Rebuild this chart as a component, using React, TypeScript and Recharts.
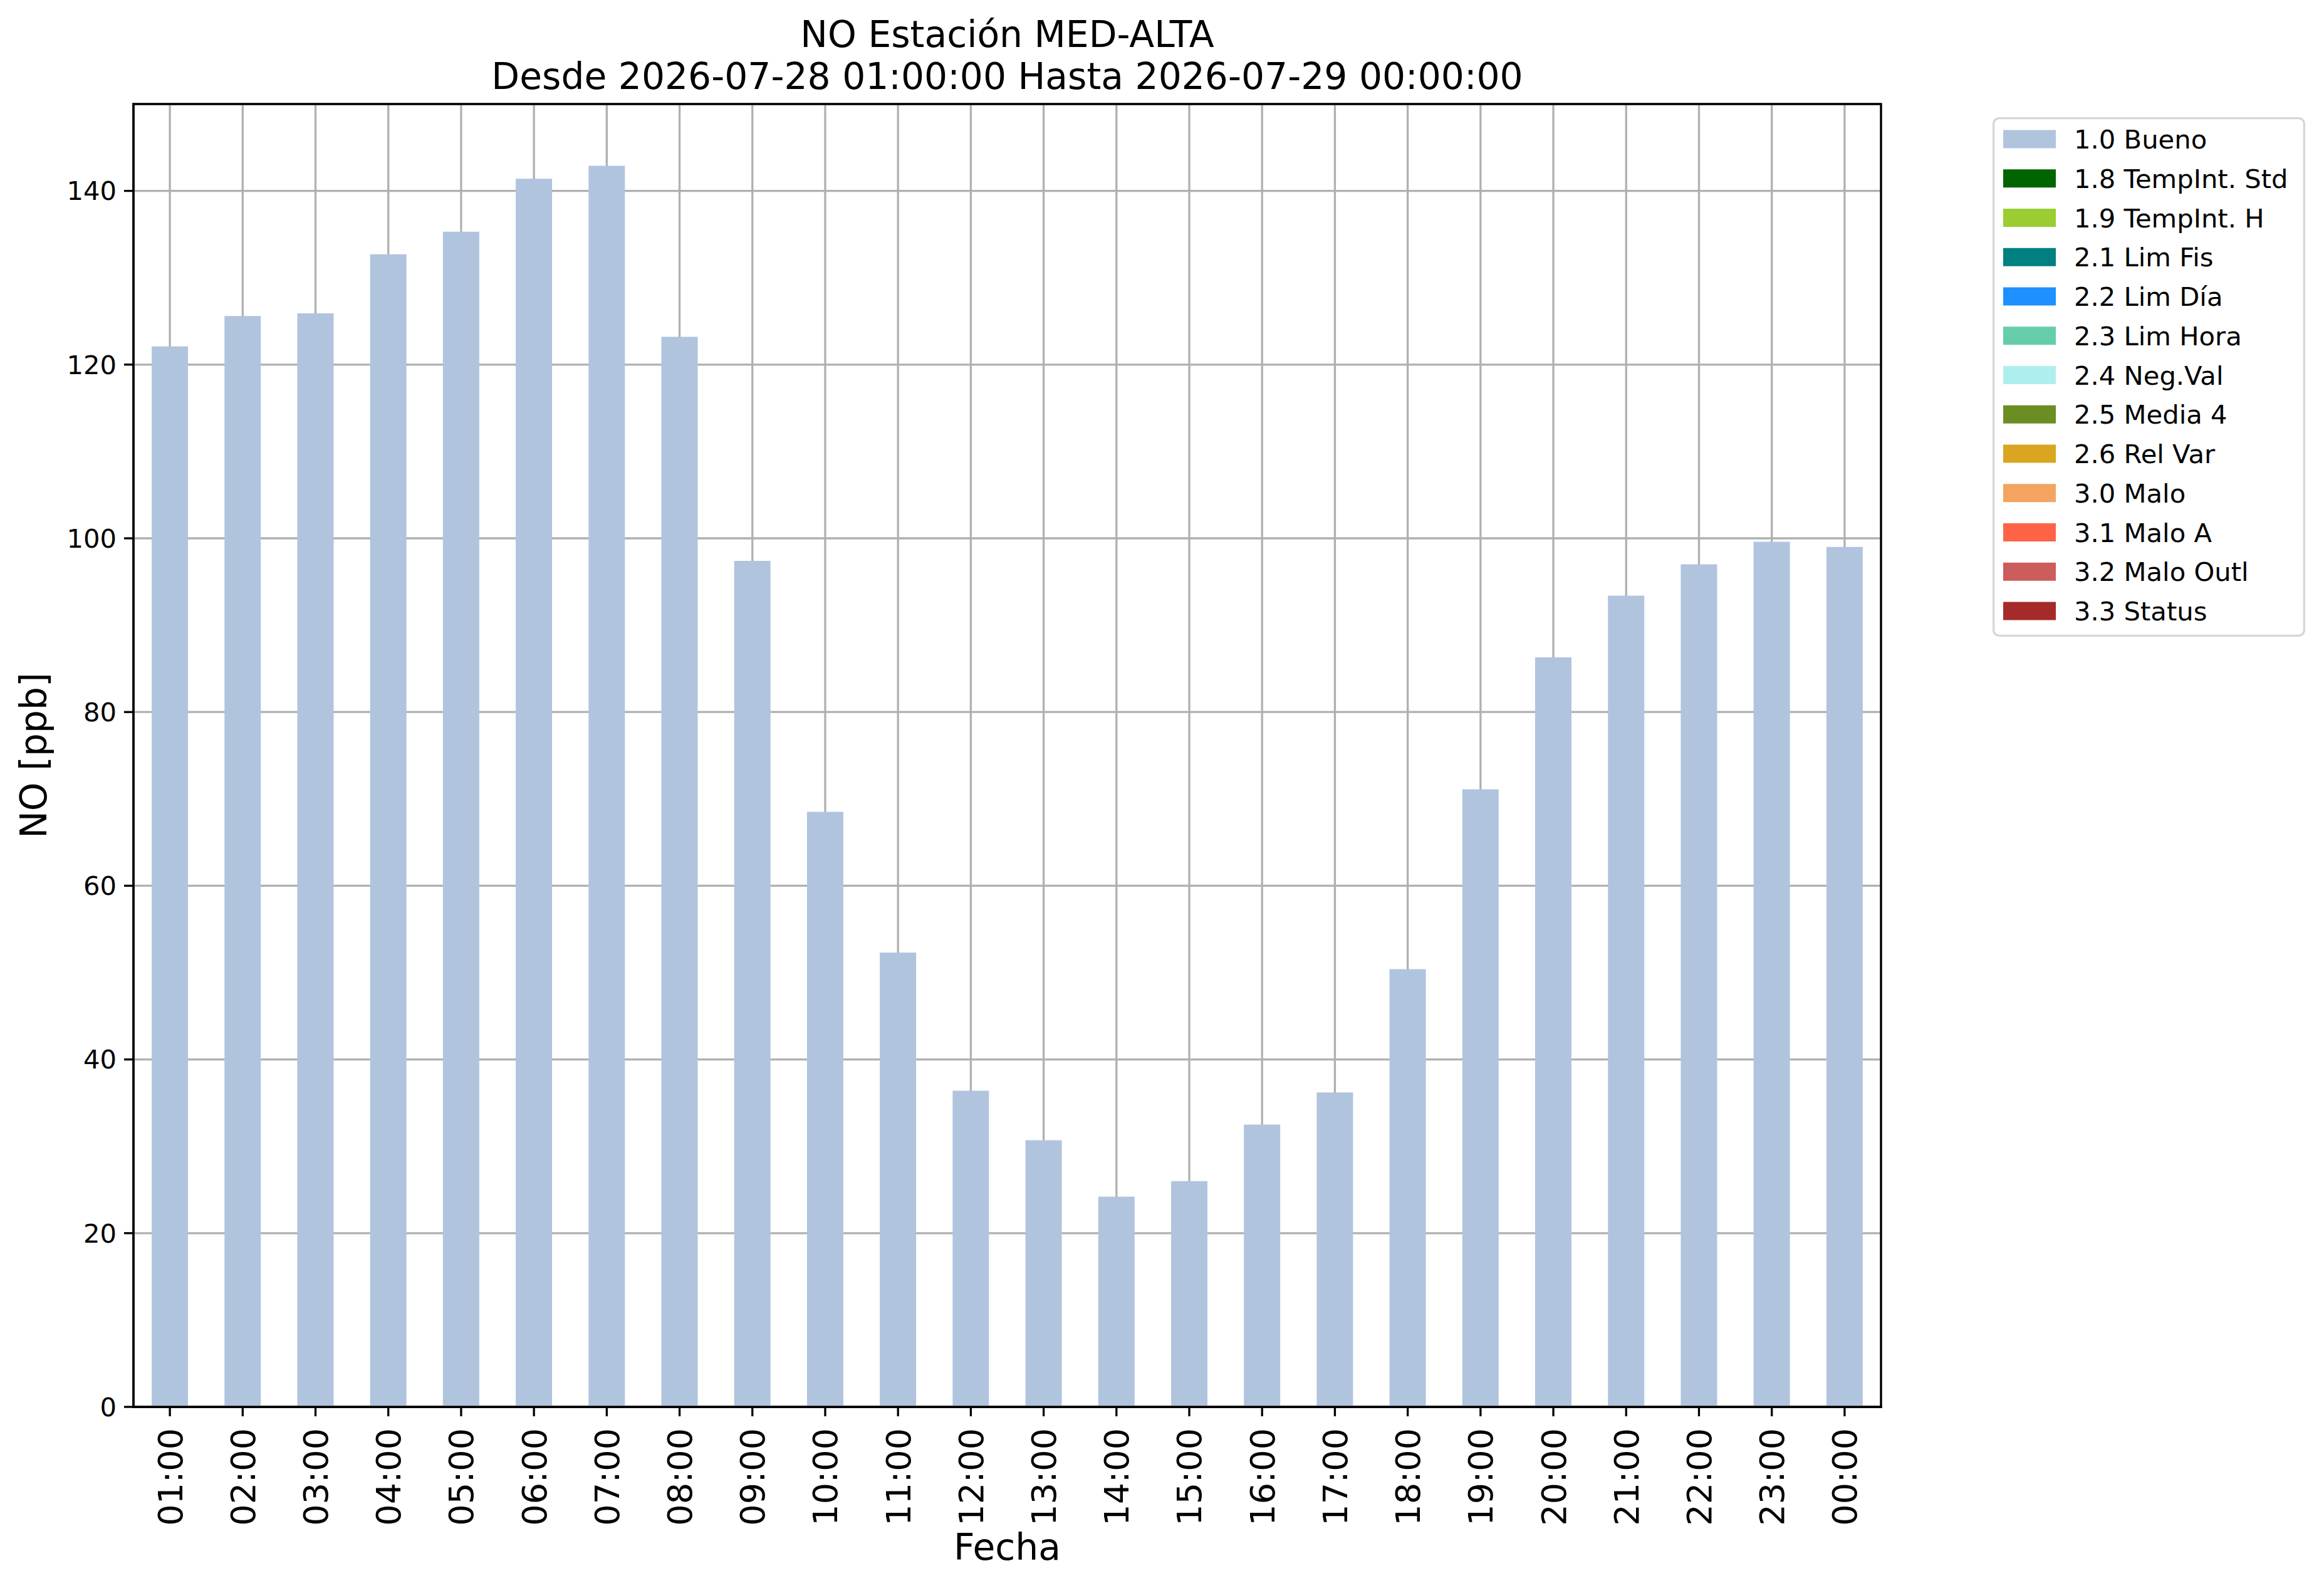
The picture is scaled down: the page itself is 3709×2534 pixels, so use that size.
import React from 'react';
import { BarChart, Bar, XAxis, YAxis, CartesianGrid, Legend, ReferenceArea } from 'recharts';

// ---- data ----
const hours = [
  '01:00', '02:00', '03:00', '04:00', '05:00', '06:00', '07:00', '08:00',
  '09:00', '10:00', '11:00', '12:00', '13:00', '14:00', '15:00', '16:00',
  '17:00', '18:00', '19:00', '20:00', '21:00', '22:00', '23:00', '00:00',
];
const noValues = [
  122.1, 125.6, 125.9, 132.7, 135.3, 141.4, 142.9, 123.2,
  97.4, 68.5, 52.3, 36.4, 30.7, 24.2, 26.0, 32.5,
  36.2, 50.4, 71.1, 86.3, 93.4, 97.0, 99.6, 99.0,
];
const yTicks = [0, 20, 40, 60, 80, 100, 120, 140];
const yDomain = [0, 150];
const qualityLabels = [
  '1.0 Bueno', '1.8 TempInt. Std', '1.9 TempInt. H', '2.1 Lim Fis', '2.2 Lim Día',
  '2.3 Lim Hora', '2.4 Neg.Val', '2.5 Media 4', '2.6 Rel Var', '3.0 Malo',
  '3.1 Malo A', '3.2 Malo Outl', '3.3 Status',
];
const qualityColors = [
  '#B0C4DE', '#006400', '#9ACD32', '#008080', '#1E90FF',
  '#66CDAA', '#AFEEEE', '#6B8E23', '#DAA520', '#F4A460',
  '#FF6347', '#CD5C5C', '#A52A2A',
];
const titleLines = ['NO Estación MED-ALTA', 'Desde 2026-07-28 01:00:00 Hasta 2026-07-29 00:00:00'];
const yLabel = 'NO [ppb]';
const xLabel = 'Fecha';

const data = hours.map((h, i) => ({ hour: h, bueno: noValues[i] }));

// ---- layout ----
const W = 3709;
const H = 2534;
const PLOT_L = 213;
const PLOT_R = 3002;
const PLOT_T = 166;
const PLOT_B = 2245;
const Y_AXIS_W = 120;
const X_AXIS_H = 200;
const FONT = '"DejaVu Sans", sans-serif';
const LW = 3.3;

const LEG_L = 3180;
const LEG_T = 187;
const LEG_W = 499;
const LEG_H = 829;

const XTick = (props: any) => {
  const { x, y, payload } = props;
  return (
    <text
      x={x}
      y={y}
      transform={`rotate(-90, ${x}, ${y})`}
      textAnchor="end"
      dy="0.36em"
      fontSize={54}
      fontFamily={FONT}
      fill="#000"
    >
      {payload.value}
    </text>
  );
};

const LegendBox = () => (
  <svg width={LEG_W} height={LEG_H} style={{ display: 'block' }}>
    <rect
      x={LW / 2}
      y={LW / 2}
      width={LEG_W - LW}
      height={LEG_H - LW}
      rx={9}
      ry={9}
      fill="#fff"
      stroke="#d6d6d6"
      strokeWidth={LW}
    />
    {qualityLabels.map((lab, i) => {
      const cy = 35 + i * 62.75;
      return (
        <g key={lab}>
          <rect x={17} y={cy - 14.5} width={84} height={29} fill={qualityColors[i]} />
          <text x={130} y={cy + 15} fontSize={41.7} fontFamily={FONT} fill="#000">
            {lab}
          </text>
        </g>
      );
    })}
  </svg>
);

export default function App() {
  const axisLine = { stroke: '#000', strokeWidth: LW, strokeLinecap: 'square' as const };
  const tickLine = { stroke: '#000', strokeWidth: LW };
  return (
    <div style={{ position: 'absolute', left: 0, top: 0, width: W, height: H, background: '#fff' }}>
      <BarChart
        width={W}
        height={H}
        data={data}
        barCategoryGap="25%"
        margin={{
          top: PLOT_T,
          right: W - PLOT_R,
          bottom: H - PLOT_B - X_AXIS_H,
          left: PLOT_L - Y_AXIS_W,
        }}
      >
        <XAxis
          dataKey="hour"
          interval={0}
          height={X_AXIS_H}
          tick={<XTick />}
          tickSize={15}
          tickMargin={19}
          tickLine={tickLine}
          axisLine={axisLine}
        />
        <YAxis
          type="number"
          domain={yDomain}
          ticks={yTicks}
          width={Y_AXIS_W}
          tickSize={15}
          tickMargin={12}
          tickLine={tickLine}
          axisLine={axisLine}
          tick={{ fontSize: 41.7, fontFamily: FONT, fill: '#000' }}
        />
        <Bar dataKey="bueno" fill={qualityColors[0]} isAnimationActive={false} />
        <CartesianGrid stroke="#b0b0b0" strokeWidth={LW} />
        <ReferenceArea
          x1={hours[0]}
          x2={hours[hours.length - 1]}
          y1={yDomain[0]}
          y2={yDomain[1]}
          fill="none"
          fillOpacity={0}
          stroke="#000"
          strokeWidth={LW}
          strokeOpacity={1}
          ifOverflow="visible"
        />
        <Legend
          layout="vertical"
          align="center"
          verticalAlign="middle"
          wrapperStyle={{ left: LEG_L, top: LEG_T, width: LEG_W, height: LEG_H }}
          content={() => <LegendBox />}
        />
      </BarChart>
      <svg
        width={W}
        height={H}
        style={{ position: 'absolute', left: 0, top: 0, pointerEvents: 'none' }}
      >
        <text x={(PLOT_L + PLOT_R) / 2} y={75} textAnchor="middle" fontSize={58.3} fontFamily={FONT} fill="#000">
          {titleLines[0]}
        </text>
        <text x={(PLOT_L + PLOT_R) / 2} y={142} textAnchor="middle" fontSize={58.3} fontFamily={FONT} fill="#000">
          {titleLines[1]}
        </text>
        <text
          x={74}
          y={(PLOT_T + PLOT_B) / 2}
          transform={`rotate(-90, 74, ${(PLOT_T + PLOT_B) / 2})`}
          textAnchor="middle"
          fontSize={58.3}
          fontFamily={FONT}
          fill="#000"
        >
          {yLabel}
        </text>
        <text x={(PLOT_L + PLOT_R) / 2} y={2489} textAnchor="middle" fontSize={58.3} fontFamily={FONT} fill="#000">
          {xLabel}
        </text>
      </svg>
    </div>
  );
}
